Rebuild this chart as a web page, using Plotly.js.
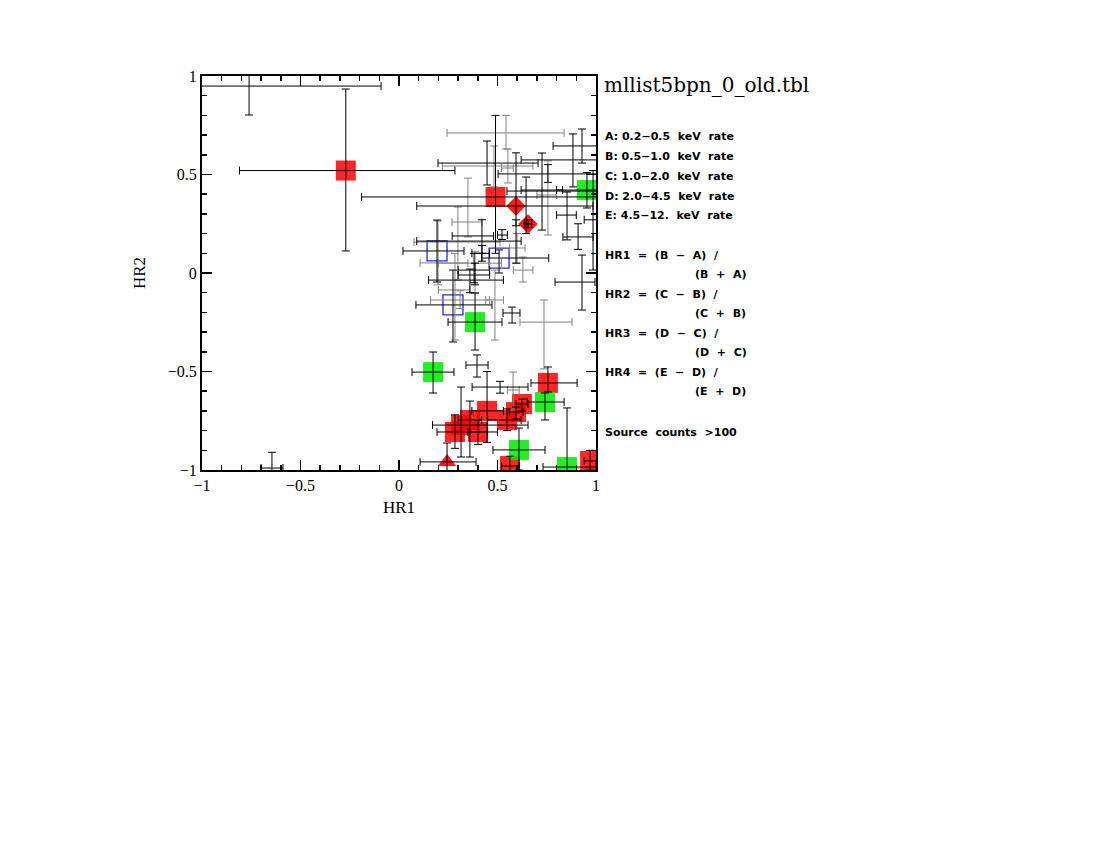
<!DOCTYPE html>
<html><head><meta charset="utf-8">
<script src="https://cdn.plot.ly/plotly-3.0.1.min.js"></script>
<style>body{margin:0;background:#fff}</style>
</head><body><div id="chart" style="width:1100px;height:850px"></div>
<script>
// ---- red squares ----
const redHR1   = [-0.27, 0.49, 0.756, 0.624, 0.548, 0.447, 0.36, 0.315, 0.284, 0.401, 0.563, 0.97, 0.594];
const redHR2   = [0.52, 0.386, -0.558, -0.665, -0.746, -0.70, -0.746, -0.772, -0.807, -0.807, -0.98, -0.954, -0.706];
const redHR1Lo = [-0.81, -0.19, 0.67, 0.594, 0.45, 0.37, 0.30, 0.17, 0.193, 0.35, 0.52, 0.94, 0.56];
const redHR1Hi = [0.284, 1.05, 0.904, 0.655, 0.62, 0.53, 0.42, 0.655, 0.50, 0.45, 0.61, 1.05, 0.63];
const redHR2Lo = [0.112, 0.10, -0.604, -0.70, -0.80, -0.86, -0.934, -0.934, -0.89, -0.87, -1.05, -1.0, -0.74];
const redHR2Hi = [0.934, 0.80, -0.477, -0.64, -0.69, -0.50, -0.65, -0.579, -0.72, -0.75, -0.93, -0.9, -0.68];
// ---- green squares ----
const grnHR1   = [0.954, 0.386, 0.173, 0.741, 0.609, 0.853];
const grnHR2   = [0.421, -0.249, -0.503, -0.655, -0.898, -0.985];
const grnHR1Lo = [0.80, 0.249, 0.066, 0.65, 0.477, 0.731];
const grnHR1Hi = [1.05, 0.523, 0.279, 0.838, 0.741, 1.0];
const grnHR2Lo = [0.33, -0.391, -0.609, -0.746, -1.0, -1.05];
const grnHR2Hi = [0.51, -0.102, -0.401, -0.609, -0.787, -0.685];
// ---- blue open squares ----
const bluHR1   = [0.193, 0.508, 0.274];
const bluHR2   = [0.112, 0.076, -0.162];
const bluHR1Lo = [0.02, 0.42, 0.086];
const bluHR1Hi = [0.33, 0.76, 0.472];
const bluHR2Lo = [-0.046, 0.0, -0.35];
const bluHR2Hi = [0.269, 0.117, 0.015];
// ---- red diamonds ----
const dmdHR1   = [0.594, 0.655];
const dmdHR2   = [0.34, 0.249];
const dmdHR1Lo = [0.09, 0.635];
const dmdHR1Hi = [0.985, 0.675];
const dmdHR2Lo = [0.24, 0.23];
const dmdHR2Hi = [0.61, 0.27];
// ---- red triangle ----
const triHR1   = [0.244];
const triHR2   = [-0.959];
const triHR1Lo = [0.107];
const triHR1Hi = [0.391];
const triHR2Lo = [-1.05];
const triHR2Hi = [-0.863];
// ---- points without symbol (black error bars) ----
const blkHR1   = [-0.761, -0.645, 0.883, 0.929, 0.447, 0.726, 0.645, 0.853, 0.909, 0.756, 0.381, 0.421, 0.594, 0.929, 0.574, 0.396, 0.513, 0.985, 0.421, 0.523, 0.36, 0.386];
const blkHR2   = [0.949, -0.99, 0.574, 0.645, 0.558, 0.421, 0.416, 0.294, 0.183, 0.503, 0.015, 0.188, 0.162, -0.046, -0.203, -0.467, -0.579, 0.27, 0.10, 0.193, -0.036, -0.01];
const blkHR1Lo = [-1.1, -0.70, 0.62, 0.782, 0.198, 0.62, 0.548, 0.80, 0.832, 0.503, 0.30, 0.27, 0.09, 0.792, 0.528, 0.34, 0.371, 0.94, 0.37, 0.50, 0.15, 0.30];
const blkHR1Hi = [-0.091, -0.589, 1.02, 1.02, 0.706, 0.83, 1.005, 0.90, 0.985, 1.005, 0.46, 0.48, 0.62, 0.995, 0.614, 0.452, 0.655, 1.05, 0.46, 0.55, 0.53, 0.46];
const blkHR2Lo = [0.802, -1.05, 0.437, 0.558, 0.447, 0.218, 0.2, 0.168, 0.12, 0.46, -0.05, 0.10, 0.05, -0.188, -0.254, -0.528, -0.61, 0.015, 0.06, 0.17, -0.10, -0.06];
const blkHR2Hi = [1.05, -0.91, 0.706, 0.731, 0.67, 0.609, 0.487, 0.411, 0.25, 0.55, 0.10, 0.27, 0.27, 0.091, -0.173, -0.416, -0.55, 0.52, 0.14, 0.22, 0.02, 0.05];
// ---- points without symbol (grey error bars) ----
const gryHR1   = [0.543, 0.482, 0.553, 0.756, 0.35, 0.299, 0.198, 0.284, 0.487, 0.629, 0.736, 0.579, 0.386, 0.599, 0.31];
const gryHR2   = [0.711, 0.543, 0.533, 0.396, 0.259, 0.157, 0.051, -0.086, -0.137, 0.015, -0.249, -0.594, 0.05, 0.127, -0.137];
const gryHR1Lo = [0.244, 0.22, 0.52, 0.70, 0.269, 0.076, 0.107, 0.20, 0.44, 0.58, 0.614, 0.55, 0.20, 0.56, 0.16];
const gryHR1Hi = [0.838, 0.68, 0.58, 0.80, 0.421, 0.513, 0.35, 0.36, 0.53, 0.68, 0.878, 0.61, 0.52, 0.64, 0.46];
const gryHR2Lo = [0.63, 0.437, 0.457, 0.193, 0.183, -0.036, -0.06, -0.34, -0.34, -0.046, -0.487, -0.695, -0.10, 0.05, -0.18];
const gryHR2Hi = [0.80, 0.645, 0.629, 0.569, 0.482, 0.335, 0.264, 0.10, 0.015, 0.081, -0.137, -0.503, 0.11, 0.20, -0.09];

const infoLines = [
  'A: 0.2\u22120.5  keV  rate',
  'B: 0.5\u22121.0  keV  rate',
  'C: 1.0\u22122.0  keV  rate',
  'D: 2.0\u22124.5  keV  rate',
  'E: 4.5\u221212.  keV  rate'
];
const hrLines = [
  ['HR1  =  (B  \u2212  A)  /', '(B  +  A)'],
  ['HR2  =  (C  \u2212  B)  /', '(C  +  B)'],
  ['HR3  =  (D  \u2212  C)  /', '(D  +  C)'],
  ['HR4  =  (E  \u2212  D)  /', '(E  +  D)']
];
const countsNote = 'Source  counts  >100';
const fileTitle = 'mllist5bpn_0_old.tbl';

function nb(s){ return s.replace(/ /g, '\u00a0'); }
function plus(v, hi){ return v.map((x,i)=>hi[i]-x); }
function minus(v, lo){ return v.map((x,i)=>x-lo[i]); }

function markerTrace(x, y, sym, size, color, lineColor, lw){
  return {type:'scatter', mode:'markers', x:x, y:y, hoverinfo:'skip', showlegend:false,
    marker:{symbol:sym, size:size, color:color, line:{color:lineColor, width:lw}}};
}
function errTrace(x, y, xlo, xhi, ylo, yhi, col){
  return {type:'scatter', mode:'markers', x:x, y:y, hoverinfo:'skip', showlegend:false,
    marker:{size:1, opacity:0},
    error_x:{type:'data', symmetric:false, array:plus(x,xhi), arrayminus:minus(x,xlo), color:col, thickness:1, width:4},
    error_y:{type:'data', symmetric:false, array:plus(y,yhi), arrayminus:minus(y,ylo), color:col, thickness:1, width:4}};
}

const allBlkX = [].concat(redHR1, grnHR1, bluHR1, dmdHR1, triHR1, blkHR1);
const allBlkY = [].concat(redHR2, grnHR2, bluHR2, dmdHR2, triHR2, blkHR2);
const allBlkXLo = [].concat(redHR1Lo, grnHR1Lo, bluHR1Lo, dmdHR1Lo, triHR1Lo, blkHR1Lo);
const allBlkXHi = [].concat(redHR1Hi, grnHR1Hi, bluHR1Hi, dmdHR1Hi, triHR1Hi, blkHR1Hi);
const allBlkYLo = [].concat(redHR2Lo, grnHR2Lo, bluHR2Lo, dmdHR2Lo, triHR2Lo, blkHR2Lo);
const allBlkYHi = [].concat(redHR2Hi, grnHR2Hi, bluHR2Hi, dmdHR2Hi, triHR2Hi, blkHR2Hi);

const data = [
  markerTrace(redHR1, redHR2, 'square', 20, 'rgba(255,0,0,0.85)', 'rgba(0,0,0,0)', 0),
  markerTrace(grnHR1, grnHR2, 'square', 20, 'rgba(0,235,0,0.85)', 'rgba(0,0,0,0)', 0),
  markerTrace(bluHR1, bluHR2, 'square-open', 20, 'rgb(40,40,225)', 'rgb(40,40,225)', 1.3),
  markerTrace(dmdHR1, dmdHR2, 'diamond', 15, 'rgba(255,0,0,0.9)', 'rgba(0,0,0,0)', 0),
  markerTrace(triHR1, triHR2, 'triangle-up', 16, 'rgba(255,0,0,0.9)', 'rgba(0,0,0,0)', 0),
  errTrace(gryHR1, gryHR2, gryHR1Lo, gryHR1Hi, gryHR2Lo, gryHR2Hi, 'rgb(130,130,130)'),
  errTrace(allBlkX, allBlkY, allBlkXLo, allBlkXHi, allBlkYLo, allBlkYHi, 'rgb(0,0,0)')
];

const L = 202, R = 596, T = 76, B = 470;
function px2paperX(px){ return (px - L) / (R - L); }
function px2paperY(py){ return (B - py) / (B - T); }

const annFont = {family:'DejaVu Sans', size:11, color:'#000', weight:'bold'};
const annotations = [];
annotations.push({xref:'paper', yref:'paper', x:px2paperX(602), y:px2paperY(85), xanchor:'left', yanchor:'middle',
  text:fileTitle, showarrow:false, font:{family:'DejaVu Serif', size:20, color:'#000'}});
infoLines.forEach((s,i)=>annotations.push({xref:'paper', yref:'paper', x:px2paperX(603), y:px2paperY(136 + 20*i),
  xanchor:'left', yanchor:'middle', text:nb(s), showarrow:false, font:annFont}));
hrLines.forEach((p,i)=>{
  annotations.push({xref:'paper', yref:'paper', x:px2paperX(603), y:px2paperY(255 + 39.3*i),
    xanchor:'left', yanchor:'middle', text:nb(p[0]), showarrow:false, font:annFont});
  annotations.push({xref:'paper', yref:'paper', x:px2paperX(693), y:px2paperY(274 + 39.3*i),
    xanchor:'left', yanchor:'middle', text:nb(p[1]), showarrow:false, font:annFont});
});
annotations.push({xref:'paper', yref:'paper', x:px2paperX(603), y:px2paperY(432), xanchor:'left', yanchor:'middle',
  text:nb(countsNote), showarrow:false, font:annFont});

const axisCommon = {
  range:[-1,1], autorange:false, showgrid:false, zeroline:false,
  showline:true, linecolor:'#000', linewidth:2, mirror:'allticks',
  ticks:'inside', ticklen:10, tickwidth:1.5, tickcolor:'#000', dtick:0.5, tick0:0,
  minor:{ticks:'inside', ticklen:5, tickwidth:1.5, tickcolor:'#000', dtick:0.1, showgrid:false},
  tickfont:{family:'Liberation Serif', size:16, color:'#000'}
};
const layout = {
  width:1100, height:850, paper_bgcolor:'#fff', plot_bgcolor:'#fff',
  margin:{l:L, r:1100-R, t:T, b:850-B, pad:0},
  showlegend:false,
  xaxis:Object.assign({}, axisCommon, {title:{text:'HR1', font:{family:'Liberation Serif', size:17, color:'#000'}, standoff:8}}),
  yaxis:Object.assign({}, axisCommon, {title:{text:'HR2', font:{family:'Liberation Serif', size:17, color:'#000'}, standoff:18}}),
  annotations:annotations
};
Plotly.newPlot('chart', data, layout, {displayModeBar:false, staticPlot:true});
</script></body></html>
